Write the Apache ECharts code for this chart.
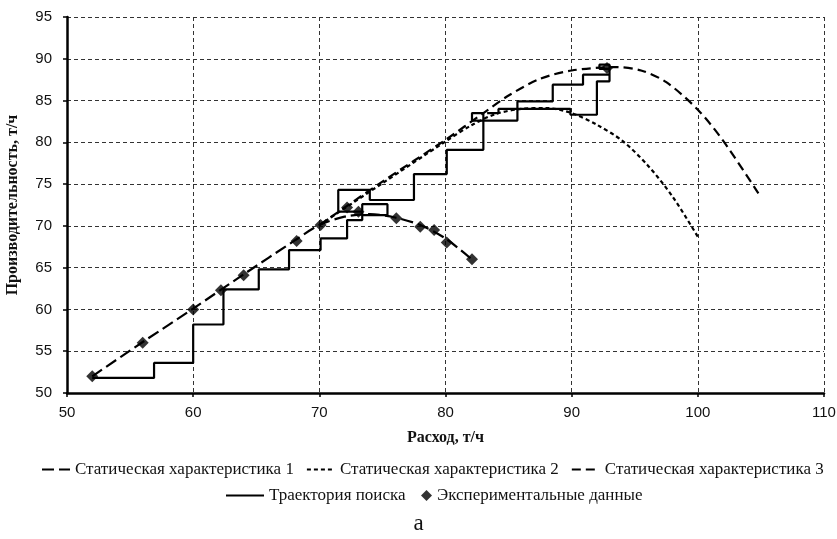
<!DOCTYPE html>
<html>
<head>
<meta charset="utf-8">
<script src="https://cdn.jsdelivr.net/npm/echarts@6/dist/echarts.min.js"></script>
<style>
  html, body { margin: 0; padding: 0; background: #fff; }
  #chart { width: 837px; height: 539px; }
</style>
</head>
<body>
<div id="chart"></div>
<script>
// Axis ticks
const xTicks = [50, 60, 70, 80, 90, 100, 110];
const yTicks = [50, 55, 60, 65, 70, 75, 80, 85, 90, 95];

// Static characteristics: [flow t/h, output t/h]
const static1 = [[52,52],[56,56.1],[60,60.1],[64,64.2],[68,68.2],[70,70.1],[72,71.1],[74,71.4],[76,71.0],[78,70.1],[80,68.5],[82,66.1]];
const static2 = [[70,70.1],[75,75.1],[80,80.1],[82,82.0],[84,83.4],[86,84.0],[88,84.1],[90,83.5],[92,82.1],[94,80.2],[96,77.3],[98,73.5],[100,68.7]];
const static3 = [[70,70.1],[75,75.3],[80,80.3],[83,83.5],[85,85.6],[87.5,87.6],[90,88.6],[93.5,89.0],[95.5,88.6],[97.5,87.2],[100,83.9],[102,80.2],[104.8,73.9]];

// Search trajectory (step path)
const trajectory = [
  [52,51.8],[56.9,51.8],[56.9,53.6],[60,53.6],[60,58.2],[62.4,58.2],[62.4,62.4],[65.2,62.4],
  [65.2,64.8],[67.6,64.8],[67.6,67.1],[70.1,67.1],[70.1,68.5],[72.2,68.5],[72.2,70.7],[73.4,70.7],
  [73.4,72.6],[75.4,72.6],[75.4,71.3],[73.4,71.3],[73.4,71.7],[71.5,71.7],[71.5,74.3],[74.0,74.3],
  [74.0,73.1],[77.5,73.1],[77.5,76.2],[80.1,76.2],[80.1,79.1],[83.0,79.1],[83.0,83.5],[82.1,83.5],
  [82.1,82.6],[85.7,82.6],[85.7,84.9],[88.5,84.9],[88.5,86.9],[90.9,86.9],[90.9,88.1],[93.0,88.1],
  [93.0,89.3],[92.2,89.3],[92.2,88.8],[93.0,88.8],[93.0,87.3],[92.0,87.3],[92.0,83.3],[89.9,83.3],
  [89.9,84.0],[84.2,84.0],[84.2,83.5],[83.3,83.5]
];

// Experimental data
const experimental = [[52,52],[56,56],[60,60],[62.2,62.3],[64,64.1],[68.2,68.2],[70.1,70.1],[72.2,72.2],
  [73.1,71.7],[76.1,70.9],[78,69.9],[79.1,69.5],[80.1,68],[82.1,66],[92.8,88.9]];

const names = ['Статическая характеристика 1','Статическая характеристика 2','Статическая характеристика 3','Траектория поиска','Экспериментальные данные'];

const serif = '"Liberation Serif", "DejaVu Serif", serif';
const sans = '"Liberation Sans", Arial, sans-serif';

const chart = echarts.init(document.getElementById('chart'), null, { renderer: 'canvas' });

const gridLine = { show: true, lineStyle: { color: '#333', width: 1, type: [4, 3] } };
const legendText = { fontFamily: serif, fontSize: 17, color: '#111' };
// line-only legend entries (no marker on the line)
const lineEntry = n => ({ name: n, itemStyle: { opacity: 0 } });

chart.setOption({
  animation: false,
  backgroundColor: '#fff',
  color: ['#000', '#000', '#000', '#000', '#000'],
  title: {
    text: 'а', left: 'center', top: 507,
    textStyle: { fontFamily: serif, fontSize: 23, fontWeight: 'normal', color: '#111' }
  },
  grid: { left: 67, right: 13, top: 17, bottom: 146, containLabel: false, outerBoundsMode: 'none' },
  legend: [
    {
      data: names.slice(0, 3).map(lineEntry), top: 456, left: 36, itemGap: 12, itemWidth: 28, itemHeight: 12,
      textStyle: legendText
    },
    {
      data: [lineEntry(names[3])], top: 482, left: 220, itemWidth: 38, itemHeight: 12,
      textStyle: legendText
    },
    {
      data: [{ name: names[4], icon: 'diamond' }], top: 482, left: 416, itemWidth: 11, itemHeight: 11,
      textStyle: legendText
    }
  ],
  xAxis: {
    type: 'value', min: xTicks[0], max: xTicks[xTicks.length - 1], interval: 10,
    name: 'Расход, т/ч', nameLocation: 'middle', nameGap: 37,
    nameTextStyle: { fontFamily: serif, fontSize: 16, fontWeight: 'bold', color: '#111' },
    axisLine: { show: true, onZero: false, lineStyle: { color: '#000', width: 2.5 } },
    axisTick: { show: true, length: 4, lineStyle: { color: '#000', width: 1.5 } },
    axisLabel: { fontFamily: sans, fontSize: 15, color: '#111', margin: 12 },
    splitLine: gridLine
  },
  yAxis: {
    type: 'value', min: yTicks[0], max: yTicks[yTicks.length - 1], interval: 5,
    name: 'Производительность, т/ч', nameLocation: 'middle', nameGap: 46, nameRotate: 90,
    nameTextStyle: { fontFamily: serif, fontSize: 16, fontWeight: 'bold', color: '#111' },
    axisLine: { show: true, onZero: false, lineStyle: { color: '#000', width: 2.5 } },
    axisTick: { show: true, length: 4, lineStyle: { color: '#000', width: 1.5 } },
    axisLabel: { fontFamily: sans, fontSize: 15, color: '#111', margin: 15 },
    splitLine: gridLine
  },
  series: [
    {
      name: names[0], type: 'line', data: static1, smooth: 0.3, symbol: 'none',
      lineStyle: { color: '#000', width: 2.2, type: [12, 5] }, z: 3
    },
    {
      name: names[1], type: 'line', data: static2, smooth: 0.3, symbol: 'none',
      lineStyle: { color: '#000', width: 2.2, type: [4, 3] }, z: 3
    },
    {
      name: names[2], type: 'line', data: static3, smooth: 0.3, symbol: 'none',
      lineStyle: { color: '#000', width: 2.2, type: [9, 5] }, z: 3
    },
    {
      name: names[3], type: 'line', data: trajectory, symbol: 'none',
      lineStyle: { color: '#000', width: 2.2, type: 'solid' }, z: 4
    },
    {
      name: names[4], type: 'scatter', data: experimental, symbol: 'diamond', symbolSize: 12,
      itemStyle: { color: '#000' }, z: 5
    }
  ]
});
</script>
</body>
</html>
